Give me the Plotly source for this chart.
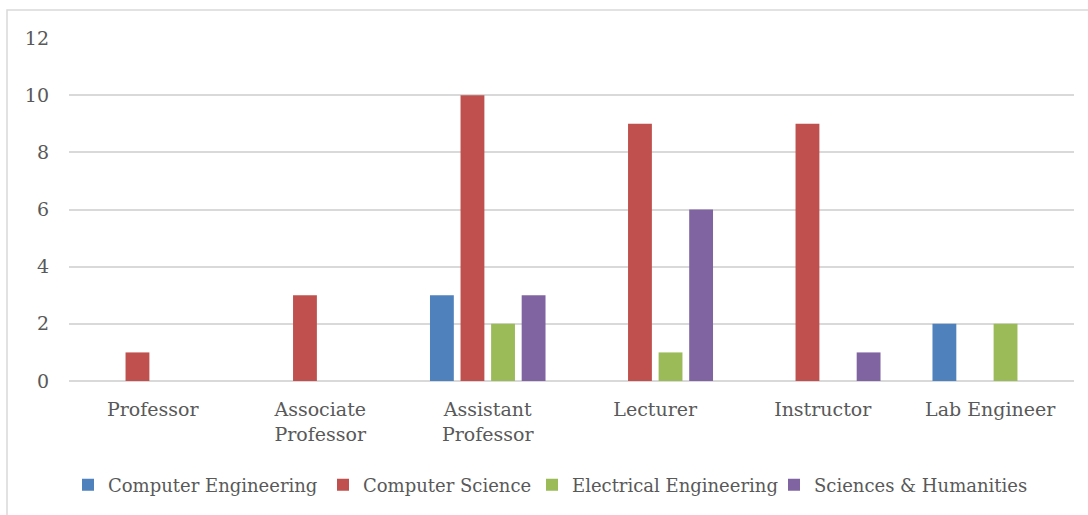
import plotly.graph_objects as go

categories = ["Professor", "Associate<br>Professor", "Assistant<br>Professor", "Lecturer", "Instructor", "Lab Engineer"]
series_names = ["Computer Engineering", "Computer Science", "Electrical Engineering", "Sciences & Humanities"]
computer_engineering = [0, 0, 3, 0, 0, 2]
computer_science = [1, 3, 10, 9, 9, 0]
electrical_engineering = [0, 0, 2, 1, 0, 2]
sciences_humanities = [0, 0, 3, 6, 1, 0]
y_ticks = [0, 2, 4, 6, 8, 10, 12]

colors = ["#4F81BD", "#C0504D", "#9BBB59", "#8064A2"]
values = [computer_engineering, computer_science, electrical_engineering, sciences_humanities]

FONT = "DejaVu Serif"
TEXT = "#595959"

W, H = 1088, 515
L, T = 69, 38
R = W - 1074
B = H - 381
pw, ph = W - L - R, H - T - B

def px(x):
    return (x - L) / pw

def py(y):
    return (H - B - y) / ph

legend_ids = ["legend", "legend2", "legend3", "legend4"]
legend_text_x = [101, 356, 565, 807]

fig = go.Figure()
for name, vals, c, lid in zip(series_names, values, colors, legend_ids):
    fig.add_trace(go.Bar(x=categories, y=vals, name=name, legend=lid,
                         marker=dict(color=c, line=dict(width=0))))

legend_layout = {}
for lid, tx in zip(legend_ids, legend_text_x):
    legend_layout[lid] = dict(orientation="h", x=px(tx - 33), xanchor="left",
                              y=py(485), yanchor="middle", bgcolor="rgba(0,0,0,0)",
                              font=dict(family=FONT, size=18, color=TEXT),
                              itemwidth=30, borderwidth=0)

fig.update_layout(
    width=W, height=H,
    margin=dict(l=L, r=R, t=T, b=B, autoexpand=False),
    paper_bgcolor="white", plot_bgcolor="white",
    barmode="group", bargap=0.27, bargroupgap=0.22,
    font=dict(family=FONT, size=19, color=TEXT),
    showlegend=True,
    shapes=[dict(type="rect", xref="paper", yref="paper",
                 x0=px(7), x1=px(1110), y0=py(540), y1=py(10),
                 line=dict(color="#D9D9D9", width=1.5), layer="below")],
    **legend_layout,
)
fig.update_xaxes(showgrid=False, showline=False, ticks="", tickfont=dict(size=19),
                 ticklabelstandoff=15)
fig.update_yaxes(range=[0, 12], tickvals=y_ticks, showgrid=True, gridcolor="#D9D9D9",
                 gridwidth=1.5, zeroline=True, zerolinecolor="#D9D9D9", zerolinewidth=1.5,
                 ticks="", ticklabelstandoff=19, tickfont=dict(size=19))

fig.write_html("out.html", config={"displayModeBar": False},
               post_script="document.body.style.margin='0';")
